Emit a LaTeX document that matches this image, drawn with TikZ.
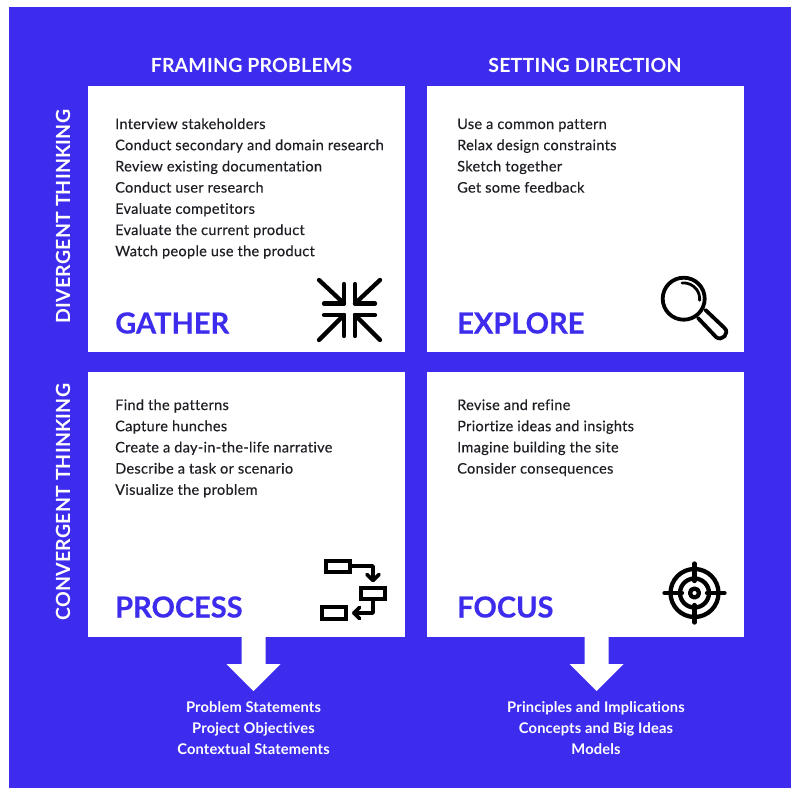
\documentclass[tikz,border=0pt]{standalone}
\usepackage{fontspec}
\setmainfont{Lato}[Ligatures=NoCommon]
\definecolor{brandblue}{RGB}{61,44,237}
\definecolor{ink}{RGB}{30,30,36}
\tikzset{
 x=1pt,y=-1pt,
 card/.style={fill=white,draw=none,inner sep=0pt,minimum width=317pt,anchor=north west},
 itemtext/.style={anchor=base west,inner sep=0pt,text=ink,font=\fontsize{14.55}{16}\selectfont\addfontfeatures{LetterSpace=2,FakeBold=0.25}},
 headtext/.style={inner sep=0pt,text=white,font=\fontsize{19.5}{20}\selectfont\bfseries\addfontfeatures{LetterSpace=1}},
 sidetext/.style={inner sep=0pt,text=white,rotate=90,font=\fontsize{19.5}{20}\selectfont\bfseries\addfontfeatures{LetterSpace=1}},
 titletext/.style={anchor=base west,inner sep=0pt,text=brandblue,font=\fontsize{29}{30}\selectfont\bfseries\addfontfeatures{FakeBold=0.4}},
 outtext/.style={anchor=base,inner sep=0pt,text=white,font=\fontsize{14.7}{16}\selectfont\bfseries\addfontfeatures{LetterSpace=1}},
 icon/.style={draw=black,line width=4.3pt,line cap=round,line join=round},
 iconthin/.style={draw=black,line width=3.6pt,line cap=round,line join=round},
 iconbox/.style={draw=black,line width=3.6pt,line join=miter},
 bigarrow/.style={fill=white,draw=none},
}
\newcommand{\itemrows}[3]{\foreach \t [count=\i from 0] in {#3} {\node[itemtext] (#1-\i) at (#2,{\rowbase+21.2*\i}) {\t};}}
\begin{document}
\begin{tikzpicture}
\useasboundingbox (0,0) rectangle (800,797);
\fill[white] (0,0) rectangle (800,797);
\fill[brandblue] (9,7) rectangle (791,788);
% cards
\node[card,minimum height=266pt] (gather) at (88,86) {};
\node[card,minimum height=266pt] (explore) at (427,86) {};
\node[card,minimum height=265pt] (process) at (88,372) {};
\node[card,minimum height=265pt] (focus) at (427,372) {};
% headers
\node[headtext] (h1) at (251.5,65) {FRAMING PROBLEMS};
\node[headtext] (h2) at (585,65) {SETTING DIRECTION};
\node[sidetext] (s1) at (63,216.5) {DIVERGENT THINKING};
\node[sidetext] (s2) at (63,502) {CONVERGENT THINKING};
% lists
\def\rowbase{129}
\itemrows{ga}{115}{Interview stakeholders,Conduct secondary and domain research,Review existing documentation,Conduct user research,Evaluate competitors,Evaluate the current product,Watch people use the product}
\itemrows{ex}{457}{Use a common pattern,Relax design constraints,Sketch together,Get some feedback}
\def\rowbase{410}
\itemrows{pr}{115}{Find the patterns,Capture hunches,Create a day-in-the-life narrative,Describe a task or scenario,Visualize the problem}
\itemrows{fo}{457}{Revise and refine,Priortize ideas and insights,Imagine building the site,Consider consequences}
% titles
\node[titletext] (t1) at (115,333.5) {GATHER};
\node[titletext] (t2) at (457,333.5) {EXPLORE};
\node[titletext] (t3) at (115,617.5) {PROCESS};
\node[titletext] (t4) at (457,617.5) {FOCUS};
% gather icon
\begin{scope}[icon]
 \draw (319,280) -- (344,303.5); \draw (344,284) -- (344,303.5) -- (324,303.5);
 \draw (380,280) -- (355,303.5); \draw (355,284) -- (355,303.5) -- (375,303.5);
 \draw (319,340) -- (344,315); \draw (344,336) -- (344,315) -- (324,315);
 \draw (380,340) -- (355,315); \draw (355,336) -- (355,315) -- (375,315);
\end{scope}
% magnifier
\begin{scope}[icon,line width=3.8pt]
 \draw (683.7,298.7) circle (21);
 \draw[line width=2.8pt] (682,283) arc[start angle=-96,end angle=5,radius=16];
 \draw (698,318) -- (716,337) .. controls (722,342) and (730,333) .. (724.5,328) -- (705.5,310);
\end{scope}
% process icon
\draw[iconbox] (326,561) rectangle (350,572);
\draw[iconbox] (361,588) rectangle (385,599);
\draw[iconbox] (322,607) rectangle (346,619);
\begin{scope}[iconthin]
 \draw (350,566) -- (373,566) -- (373,579);
 \draw (367,574.5) -- (373,580.5) -- (379,574.5);
 \draw (373,599) -- (373,613) -- (354,613);
 \draw (359.5,607.5) -- (354,613) -- (359.5,618.5);
\end{scope}
% target icon
\begin{scope}[icon]
 \draw (694.5,593) circle (24);
 \draw (694.5,593) circle (14.5);
 \draw (694.5,593) circle (4.5);
 \draw (694.5,563.5) -- (694.5,581);
 \draw (694.5,605) -- (694.5,622.5);
 \draw (664.5,593) -- (682,593);
 \draw (707,593) -- (724.5,593);
\end{scope}
% down arrows from cards
\coordinate (a1) at (253.5,637);
\coordinate (a2) at (596.5,637);
\fill[bigarrow] ([xshift=-12pt]a1) -- ++(0,27) -- ++(-15,0) -- (253.5,691) -- (280.5,664) -- (265.5,664) -- ([xshift=12pt]a1) -- cycle;
\fill[bigarrow] ([xshift=-12pt]a2) -- ++(0,27) -- ++(-15,0) -- (596.5,691) -- (623.5,664) -- (608.5,664) -- ([xshift=12pt]a2) -- cycle;
% outputs
\node[outtext] (o1) at (253.5,712) {Problem Statements};
\node[outtext] (o2) at (253.5,733) {Project Objectives};
\node[outtext] (o3) at (253.5,754) {Contextual Statements};
\node[outtext] (o4) at (596,712) {Principles and Implications};
\node[outtext] (o5) at (596,733) {Concepts and Big Ideas};
\node[outtext] (o6) at (596,754) {Models};
\end{tikzpicture}
\end{document}
